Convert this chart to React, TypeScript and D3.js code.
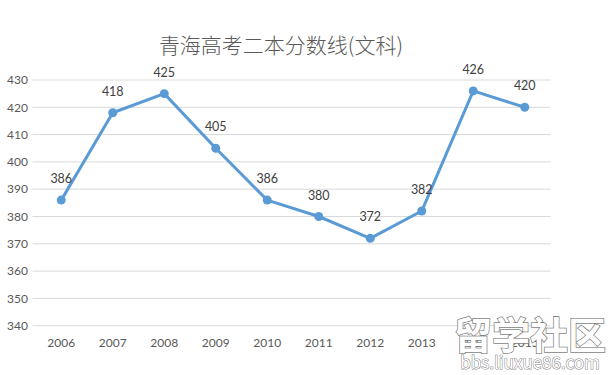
import React from "react";
import * as d3 from "d3";

const years = ["2006", "2007", "2008", "2009", "2010", "2011", "2012", "2013", "2014", "2015"];
const scores = [386, 418, 425, 405, 386, 380, 372, 382, 426, 420];
const yTicks = [340, 350, 360, 370, 380, 390, 400, 410, 420, 430];

const W = 610;
const H = 375;
const left = 35.5;
const right = 550.5;
const top = 80;
const bottom = 325.7;

const App = () => {
    const x = d3.scaleBand().domain(years).range([left, right]);
    const y = d3.scaleLinear().domain([340, 430]).range([bottom, top]);

    const line = d3
        .line<number>()
        .x((d, i) => (x(years[i]) as number) + x.bandwidth() / 2)
        .y((d) => y(d));

    const textColor = "#595959";
    const numFont = "Lato, 'Noto Sans', sans-serif";

    return (
        <svg width={W} height={H} style={{ position: "absolute", left: 0, top: 0, background: "#fff" }}>
            <text
                x={281}
                y={53}
                textAnchor="middle"
                fontSize={21}
                fill={textColor}
                fontFamily="'Noto Sans CJK SC', sans-serif"
                fontWeight={300}
            >
                青海高考二本分数线(文科)
            </text>

            {/* grid + y labels */}
            {yTicks.map((t) => (
                <g key={t}>
                    <line x1={left - 3} x2={right} y1={y(t)} y2={y(t)} stroke="#d9d9d9" strokeWidth={1} />
                    <text x={28} y={y(t)} dy="0.35em" textAnchor="end" fontSize={12} fill={textColor} fontFamily={numFont}>
                        {t}
                    </text>
                </g>
            ))}

            {/* x labels */}
            {years.map((yr) => (
                <text
                    key={yr}
                    x={(x(yr) as number) + x.bandwidth() / 2}
                    y={343}
                    dy="0.35em"
                    textAnchor="middle"
                    fontSize={12}
                    fill={textColor}
                    fontFamily={numFont}
                >
                    {yr}
                </text>
            ))}

            <path d={line(scores) || ""} fill="none" stroke="#5b9bd5" strokeWidth={3} strokeLinejoin="round" />

            {scores.map((s, i) => {
                const cx = (x(years[i]) as number) + x.bandwidth() / 2;
                return (
                    <g key={i}>
                        <circle cx={cx} cy={y(s)} r={4.5} fill="#5b9bd5" />
                        <text
                            x={cx}
                            y={y(s) - 17}
                            textAnchor="middle"
                            fontSize={12.5}
                            fill="#404040"
                            fontFamily={numFont}
                        >
                            {s}
                        </text>
                    </g>
                );
            })}

            {/* watermark */}
            <g fontFamily="'Noto Sans CJK SC', sans-serif" fill="#fff" stroke="#7f7f7f">
                <text x={530} y={349} textAnchor="middle" fontSize={38} fontWeight={700} paintOrder="stroke" strokeWidth={1.5}>
                    留学社区
                </text>
                <text x={530} y={369} textAnchor="middle" fontSize={17} paintOrder="stroke" strokeWidth={1}>
                    bbs.liuxue86.com
                </text>
            </g>
        </svg>
    );
};

export default App;
